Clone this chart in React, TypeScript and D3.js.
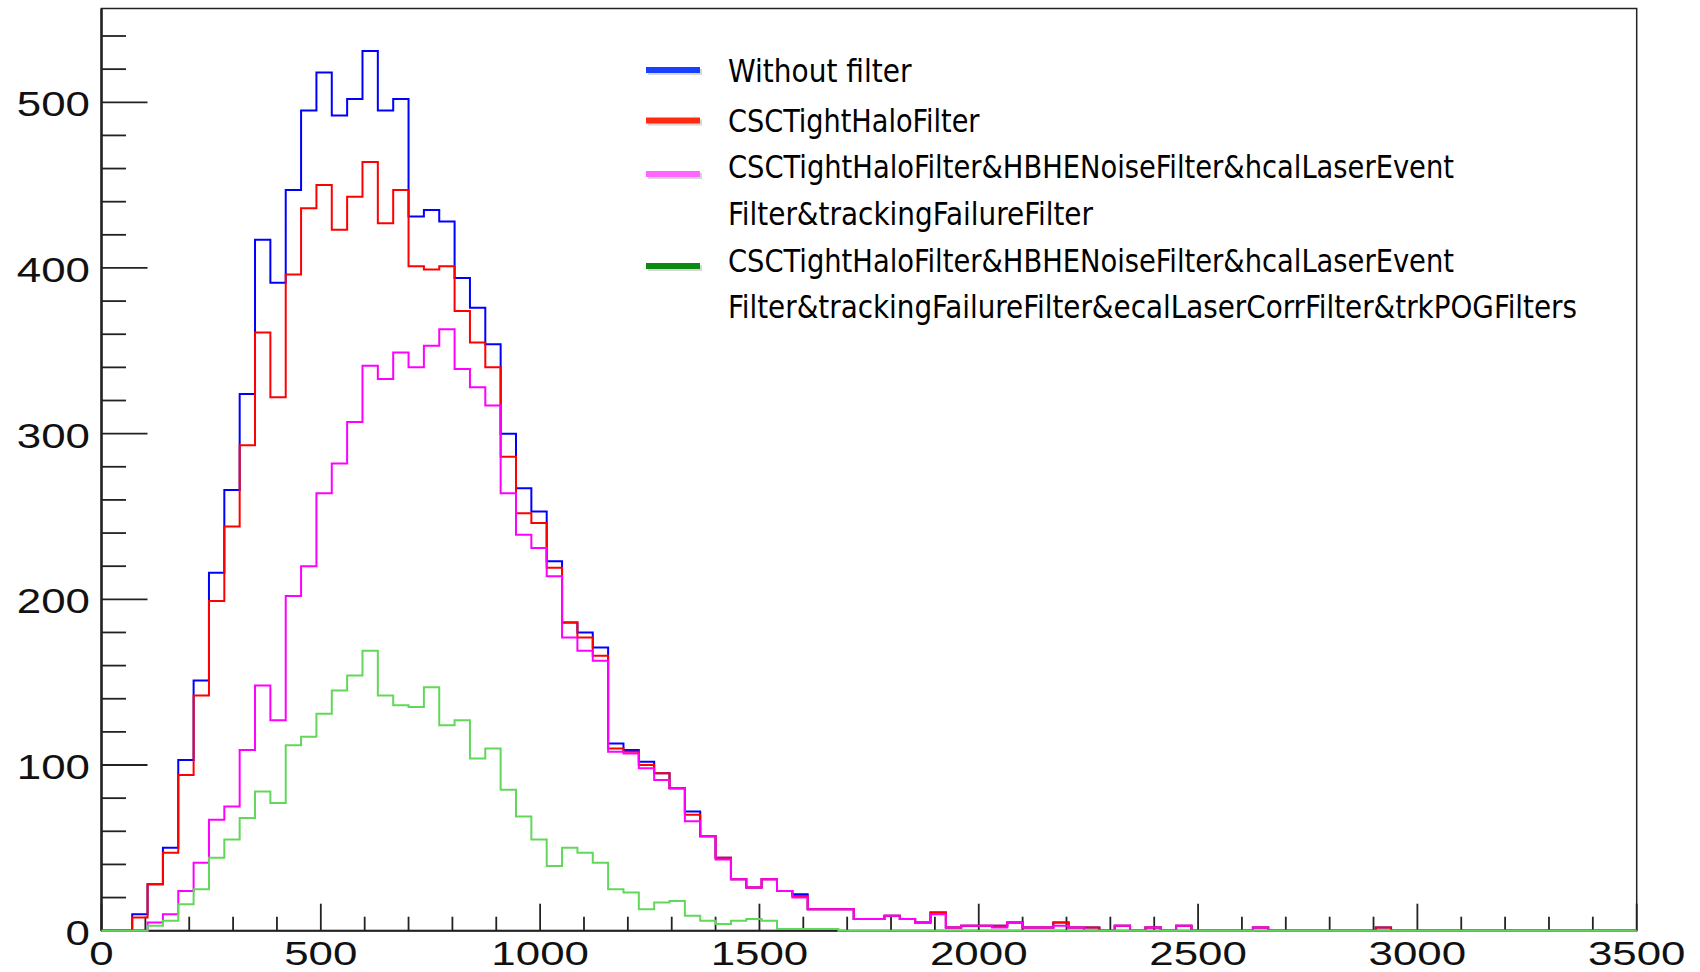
import React from "react";
import * as d3 from "d3";

// 100 bins of width 35 from 0 to 3500
const binLowEdges = d3.range(0, 3500, 35);

const withoutFilter = [
  0, 0, 10, 28, 50, 103, 151, 216, 266, 324,
  417, 391, 447, 495, 518, 492, 502, 531, 495, 502,
  431, 435, 428, 394, 376, 354, 300, 267, 253, 223,
  186, 180, 171, 113, 109, 102, 95, 86, 72, 57,
  44, 31, 26, 31, 24, 22, 13, 13, 13, 7,
  7, 9, 7, 5, 11, 2, 3, 3, 3, 5,
  2, 2, 5, 2, 2, 0, 3, 0, 2, 0,
  3, 0, 0, 0, 0, 2, 0, 0, 0, 0,
  0, 0, 0, 2, 0, 0, 0, 0, 0, 0,
  0, 0, 0, 0, 0, 0, 0, 0, 0, 0,
];

const cscTightHalo = [
  0, 0, 8, 28, 47, 94, 142, 199, 244, 293,
  361, 322, 396, 436, 450, 423, 443, 464, 427, 447,
  401, 399, 401, 374, 355, 340, 286, 252, 246, 219,
  186, 177, 166, 110, 108, 100, 95, 86, 70, 57,
  44, 31, 26, 31, 24, 21, 13, 13, 13, 7,
  7, 9, 7, 5, 11, 2, 3, 3, 3, 5,
  2, 2, 5, 2, 2, 0, 3, 0, 2, 0,
  3, 0, 0, 0, 0, 2, 0, 0, 0, 0,
  0, 0, 0, 2, 0, 0, 0, 0, 0, 0,
  0, 0, 0, 0, 0, 0, 0, 0, 0, 0,
];

const plusNoiseLaserTracking = [
  0, 0, 0, 5, 10, 24, 41, 67, 75, 109,
  148, 127, 202, 220, 264, 282, 307, 341, 333, 349,
  340, 353, 363, 339, 328, 317, 264, 239, 231, 214,
  177, 169, 163, 108, 107, 98, 91, 86, 66, 57,
  43, 31, 26, 31, 24, 20, 13, 13, 13, 7,
  7, 9, 7, 5, 10, 2, 3, 3, 2, 5,
  2, 2, 3, 2, 0, 0, 3, 0, 2, 0,
  3, 0, 0, 0, 0, 2, 0, 0, 0, 0,
  0, 0, 0, 0, 0, 0, 0, 0, 0, 0,
  0, 0, 0, 0, 0, 0, 0, 0, 0, 0,
];

const allFilters = [
  0, 0, 0, 3, 6, 16, 25, 44, 55, 68,
  84, 77, 112, 117, 131, 145, 154, 169, 142, 136,
  135, 147, 124, 127, 104, 110, 85, 69, 55, 39,
  50, 47, 41, 25, 23, 13, 17, 18, 9, 6,
  4, 6, 7, 6, 1, 1, 1, 1, 0, 0,
  0, 0, 0, 0, 0, 0, 0, 0, 0, 0,
  0, 0, 0, 0, 0, 0, 0, 0, 0, 0,
  0, 0, 0, 0, 0, 0, 0, 0, 0, 0,
  0, 0, 0, 0, 0, 0, 0, 0, 0, 0,
  0, 0, 0, 0, 0, 0, 0, 0, 0, 0,
];

const xTickLabels = ["0", "500", "1000", "1500", "2000", "2500", "3000", "3500"];
const yTickLabels = ["0", "100", "200", "300", "400", "500"];

const legendLabels = [
  ["Without filter"],
  ["CSCTightHaloFilter"],
  ["CSCTightHaloFilter&HBHENoiseFilter&hcalLaserEvent", "Filter&trackingFailureFilter"],
  [
    "CSCTightHaloFilter&HBHENoiseFilter&hcalLaserEvent",
    "Filter&trackingFailureFilter&ecalLaserCorrFilter&trkPOGFilters",
  ],
];

const series = [
  { values: withoutFilter, color: "#0000ff", legend: "#1a40ff" },
  { values: cscTightHalo, color: "#ff0000", legend: "#ff2a10" },
  { values: plusNoiseLaserTracking, color: "#ff00ff", legend: "#ff66ff" },
  { values: allFilters, color: "#62d85a", legend: "#0a8a10" },
];

const W = 1700;
const H = 972;
const L = 101.5;
const R = 1636.7;
const T = 8.5;
const B = 930.7;

export default function App() {
  const x = d3.scaleLinear().domain([0, 3500]).range([L, R]);
  const y = d3.scaleLinear().domain([0, 556.6]).range([B, T]);

  const line = d3
    .line<[number, number]>()
    .x((d) => x(d[0]))
    .y((d) => y(d[1]))
    .curve(d3.curveStepAfter);

  const histPath = (vals: number[]) => {
    const pts: [number, number][] = [[0, 0]];
    vals.forEach((v, i) => pts.push([binLowEdges[i], v]));
    pts.push([3500, vals[vals.length - 1]]);
    pts.push([3500, 0]);
    return line(pts) || "";
  };

  const yMajor = d3.range(0, 501, 100);
  const yMinor = d3.range(0, 541, 20).filter((v) => v % 100 !== 0);
  const xMajor = d3.range(0, 3501, 500);
  const xMinor = d3.range(0, 3501, 100).filter((v) => v % 500 !== 0);

  const labelFont = "'Liberation Sans', Arial, Helvetica, sans-serif";
  const legendFont = "'Liberation Sans Narrow', 'DejaVu Sans Condensed', 'Open Sans', sans-serif";

  const legendRowY = [70, 120.5, 174, 266];
  const legendTextBase = [
    [81.7],
    [131.7],
    [178.3, 225],
    [271.7, 318.3],
  ];
  const legendWidths = [[183.4], [251.5], [726, 365], [726, 849]];

  return (
    <div style={{ position: "absolute", left: 0, top: 0 }}>
      <svg width={W} height={H} style={{ display: "block", background: "#fff" }}>
        <rect x={0} y={0} width={W} height={H} fill="#fff" />
        {/* frame */}
        <rect x={L} y={T} width={R - L} height={B - T} fill="none" stroke="#222" strokeWidth={1.5} />
        <line x1={L} x2={L} y1={T} y2={B} stroke="#222" strokeWidth={2.5} />
        {/* y ticks */}
        {yMajor.map((v) => (
          <line key={"ym" + v} x1={L} x2={L + 46} y1={y(v)} y2={y(v)} stroke="#222" strokeWidth={1.8} />
        ))}
        {yMinor.map((v) => (
          <line key={"yn" + v} x1={L} x2={L + 24.5} y1={y(v)} y2={y(v)} stroke="#222" strokeWidth={1.8} />
        ))}
        {/* x ticks */}
        {xMajor.map((v) => (
          <line key={"xm" + v} x1={x(v)} x2={x(v)} y1={B} y2={B - 27} stroke="#222" strokeWidth={1.8} />
        ))}
        {xMinor.map((v) => (
          <line key={"xn" + v} x1={x(v)} x2={x(v)} y1={B} y2={B - 14} stroke="#222" strokeWidth={1.8} />
        ))}
        <line x1={L} x2={R} y1={B} y2={B} stroke="#222" strokeWidth={2} />

        {/* histograms */}
        {series.map((s, i) => (
          <path key={"h" + i} d={histPath(s.values)} fill="none" stroke={s.color} strokeWidth={2} />
        ))}

        {/* y labels */}
        {yTickLabels.map((t, i) => (
          <text
            key={"yl" + t}
            x={90}
            y={y(yMajor[i]) + 14}
            textAnchor="end"
            fontFamily={labelFont}
            fontSize={35}
            fill="#111"
            textLength={24.4 * t.length}
            lengthAdjust="spacingAndGlyphs"
          >
            {t}
          </text>
        ))}
        {/* x labels */}
        {xTickLabels.map((t, i) => (
          <text
            key={"xl" + t}
            x={x(xMajor[i])}
            y={964.5}
            textAnchor="middle"
            fontFamily={labelFont}
            fontSize={34}
            fill="#111"
            textLength={24.4 * t.length}
            lengthAdjust="spacingAndGlyphs"
          >
            {t}
          </text>
        ))}

        {/* legend */}
        {series.map((s, i) => (
          <g key={"lg" + i}>
            <rect x={648} y={legendRowY[i] - 1} width={54} height={6} fill="#bbb" opacity={0.6} />
            <rect x={646} y={legendRowY[i] - 3} width={54} height={6} fill={s.legend} />
            {legendLabels[i].map((txt, j) => (
              <text
                key={j}
                x={728}
                y={legendTextBase[i][j]}
                fontFamily={legendFont}
                fontSize={32}
                fill="#000"
                textLength={legendWidths[i][j]}
                lengthAdjust="spacingAndGlyphs"
              >
                {txt}
              </text>
            ))}
          </g>
        ))}
      </svg>
    </div>
  );
}
